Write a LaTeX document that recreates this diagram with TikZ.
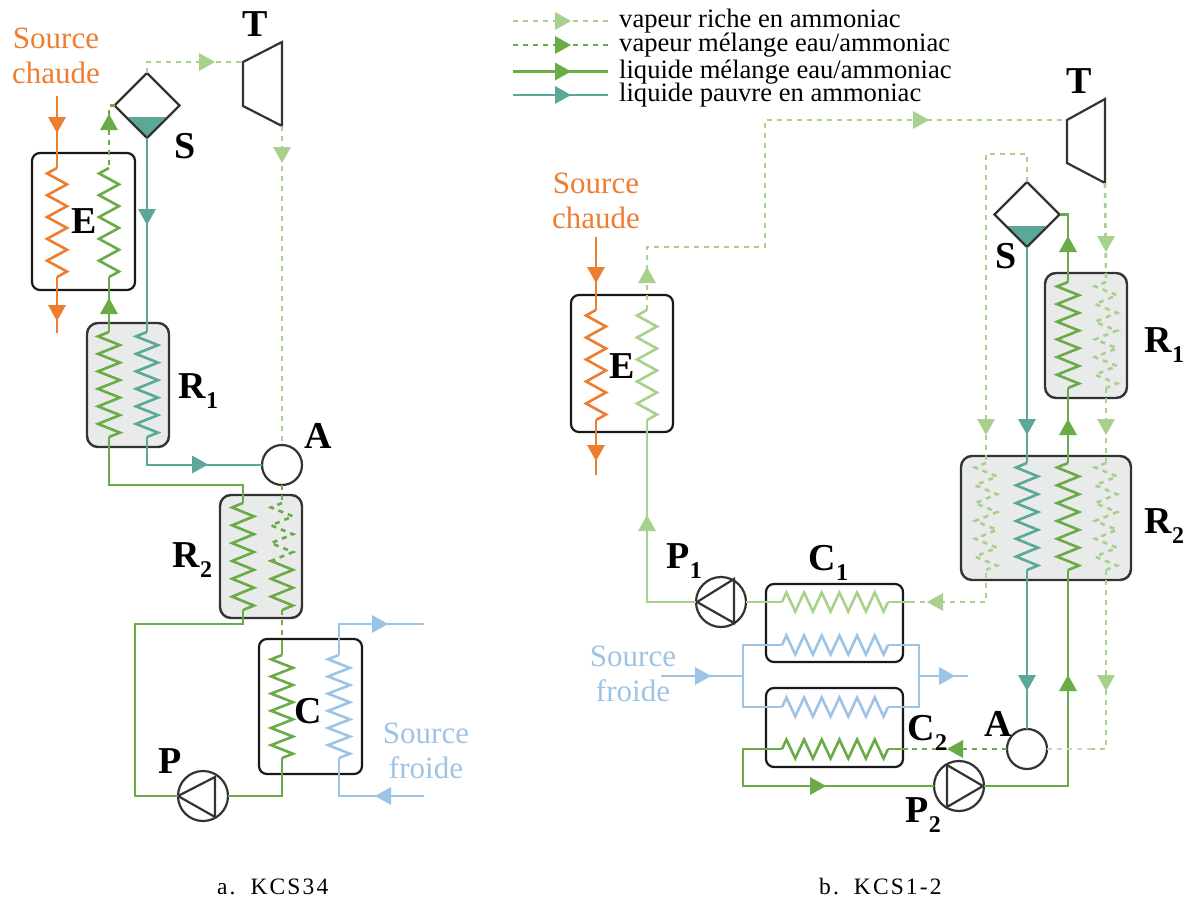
\documentclass[tikz,border=0pt]{standalone}
\usepackage{fontspec}
\setmainfont{Liberation Serif}
\newfontfamily\capfont[LetterSpace=9]{Liberation Serif}
\usetikzlibrary{calc,shapes.geometric}
\definecolor{corange}{HTML}{ED7D31}
\definecolor{clight}{HTML}{A9D18E}
\definecolor{cmed}{HTML}{6AAB47}
\definecolor{cteal}{HTML}{5BA898}
\definecolor{cblue}{HTML}{9DC3E6}
\definecolor{cedge}{HTML}{333333}
\definecolor{cgrey}{HTML}{E9EBEB}
\definecolor{cghost}{HTML}{CFCFCF}
\tikzset{
  orangeflow/.style={corange,line width=2.6pt},
  blueflow/.style={cblue,line width=2.6pt},
  tealflow/.style={cteal,line width=2.6pt},
  medflow/.style={cmed,line width=2.6pt},
  lightflow/.style={clight,line width=2.6pt},
  dashv/.style={dash pattern=on 5pt off 5pt},
  medvap/.style={medflow,dashv},
  lightvap/.style={lightflow,dashv},
  ghostvap/.style={cghost,line width=2.6pt,dashv},
  hxbox/.style={draw=black!90,line width=2.2pt,rounded corners=8pt,inner sep=0pt,outer sep=0pt},
  regen/.style={draw=cedge,fill=cgrey,line width=2.4pt,rounded corners=11pt,inner sep=0pt,outer sep=0pt},
  compo/.style={draw=cedge,line width=2.2pt,inner sep=0pt,outer sep=0pt},
  circ/.style={compo,circle,minimum size=#1pt},
  sep/.style={compo,diamond,aspect=1,minimum width=65pt,minimum height=65pt},
  boldlab/.style={inner sep=0pt,font=\fontsize{38}{38}\selectfont\bfseries,anchor=base},
  boldsub/.style={inner sep=0pt,font=\fontsize{38}{38}\selectfont\bfseries,anchor=base west},
  sourcelab/.style={inner sep=0pt,align=center,font=\fontsize{31}{35}\selectfont},
  legendlab/.style={inner sep=0pt,anchor=base west,font=\fontsize{26.6}{26.6}\selectfont},
  caption/.style={inner sep=0pt,anchor=base west,font=\capfont\fontsize{23.5}{23.5}\selectfont},
}
\newcommand\subbed[2]{#1\kern0.5pt\raisebox{-10.5pt}{\fontsize{24}{24}\selectfont #2}}
\newcommand\ftip[3]{\fill[#1,shift={(#2)},rotate=#3] (8,0)--(-8,9)--(-8,-9)--cycle;}
% style, start, end, periods, xamp, yamp
\newcommand\zig[6]{%
  \pgfmathtruncatemacro\zN{2*#4-1}%
  \draw[#1] (#2) \foreach \k [evaluate=\k as \zt using (\k+0.5)/(2*#4),
     evaluate=\k as \zs using 1-2*(\k-2*int(\k/2))] in {0,...,\zN}
     { -- ($(#2)!\zt!(#3)+({\zs*#5},{\zs*#6})$) } -- (#3);}
\newcommand\hxnode[6]{\node[#1,minimum width={(#5-#3)*1pt},minimum height={(#6-#4)*1pt}] (#2) at ({(#3+#5)/2},{(#4+#6)/2}) {};}
\begin{document}
\begin{tikzpicture}[x=1pt,y=-1pt,line join=miter]
\useasboundingbox (0,0) rectangle (1189,899);

% ===== left circuit (a) =====
\hxnode{hxbox}{Ea}{32}{153}{135}{290}
\hxnode{regen}{Raa}{87}{323}{169}{447}
\hxnode{regen}{Rab}{220}{495}{302}{618}
\hxnode{hxbox}{Ca}{259}{639}{362}{774}
\fill[cteal] (128,117)--(166,117)--(147,137)--cycle;
\node[sep] (Sa) at (147,105.5) {};
\node[circ=40,fill=white] (Aa) at (282,465) {};
\node[circ=50] (Pa) at (203,796) {};
\draw[compo] (178,796)--(215,777)--(215,817)--cycle;
\coordinate (Taa) at (243,62); \coordinate (Tab) at (282,42);
\coordinate (Tac) at (282,126); \coordinate (Tad) at (243,106);
\draw[compo] (Taa)--(Tab)--(Tac)--(Tad)--cycle;

% port coordinates (a)
\coordinate (oin) at (57,96);  \coordinate (oa) at (57,168); \coordinate (ob) at (57,277); \coordinate (oout) at (57,333);
\coordinate (ga) at (109,168); \coordinate (gb) at (109,277);
\coordinate (gc) at (109,332); \coordinate (gd) at (109,437);
\coordinate (ta) at (147,332); \coordinate (tb) at (147,437);
\coordinate (ra) at (243,503); \coordinate (rb) at (243,610);
\coordinate (rc) at (282,503); \coordinate (rd) at (282,610);
\coordinate (ca) at (282,655); \coordinate (cb) at (282,758);
\coordinate (ba) at (339,655); \coordinate (bb) at (339,758);
\coordinate (bo) at (424,624); \coordinate (bi) at (424,796);

% zigzags (a)
\zig{orangeflow}{oa}{ob}{5}{-10}{0}
\zig{medflow}{ga}{gb}{5}{-10}{0}
\zig{medflow}{gc}{gd}{6}{-11}{0}
\zig{tealflow}{ta}{tb}{6}{-11}{0}
\zig{medflow}{ra}{rb}{6}{-11}{0}
\begin{scope}\clip (260,495) rectangle (305,560);
\zig{medvap}{rc}{rd}{6}{-11}{0}
\end{scope}
\begin{scope}\clip (260,560) rectangle (305,620);
\zig{medflow}{rc}{rd}{6}{-11}{0}
\end{scope}
\zig{medflow}{ca}{cb}{6}{-11}{0}
\zig{blueflow}{ba}{bb}{6}{-11}{0}

% connectors (a)
\draw[orangeflow] (oin)--(oa);
\draw[orangeflow] (ob)--(oout);
\draw[medflow] (gb)--(gc);
\draw[medvap] (Sa.west) -- (109,105.5) -- (ga);
\draw[tealflow] (Sa.south)--(ta);
\draw[tealflow] (tb)|-(Aa.west);
\draw[medflow] (gd)--(109,485)-|(ra);
\draw[lightvap] (Sa.north)|-(Taa);
\draw[lightvap] (Tac)--(Aa.north);
\draw[medvap] (Aa.south)--(rc);
\draw[medvap] (rd)--(ca);
\draw[medflow] (282,640)--(ca);
\draw[medflow] (rb)--(243,624)-|(135,796)--(Pa.west);
\draw[medflow] (cb)|-(Pa.east);
\draw[blueflow] (ba)|-(bo);
\draw[blueflow] (bb)|-(bi);

\ftip{corange}{57,125}{270}
\ftip{corange}{57,313}{270}
\ftip{cmed}{109,122}{90}
\ftip{cmed}{109,306}{90}
\ftip{cteal}{147,217}{270}
\ftip{clight}{207,62}{0}
\ftip{clight}{282,155}{270}
\ftip{cteal}{200,464.5}{0}
\ftip{cblue}{380,624}{0}
\ftip{cblue}{383,796}{180}

% labels (a)
\node[sourcelab,text=corange] (SCa) at (56,56) {Source\\chaude};
\node[sourcelab,text=cblue] (SFa) at (426,751) {Source\\froide};
\node[boldlab] (lTa) at (255,37) {T};
\node[boldlab] (lSa) at (185,158) {S};
\node[boldlab] (lEa) at (84,233) {E};
\node[boldlab] (lAa) at (318,448) {A};
\node[boldlab] (lCa) at (308,723) {C};
\node[boldlab] (lPa) at (170,773) {P};
\node[boldsub] (lRaa) at (178,398) {\subbed{R}{1}};
\node[boldsub] (lRab) at (172,567) {\subbed{R}{2}};
\node[caption] (capa) at (217,894) {a.\hspace{15pt}KCS34};

% ===== legend =====
\foreach \ly/\st/\co/\tx/\by in {%
  21/lightvap/clight/{vapeur riche en ammoniac}/28,
  45/medvap/cmed/{vapeur mélange eau/ammoniac}/52,
  71.5/medflow/cmed/{liquide mélange eau/ammoniac}/78,
  95/tealflow/cteal/{liquide pauvre en ammoniac}/101}{%
  \coordinate (lega) at (513,\ly); \coordinate (legb) at (608,\ly);
  \draw[\st] (lega)--(legb);
  \ftip{\co}{563,\ly}{0}
  \node[legendlab] at (619,\by) {\tx};
}

% ===== right circuit (b) =====
\hxnode{hxbox}{Eb}{571}{295}{673}{432}
\hxnode{regen}{Rba}{1045}{273}{1127}{398}
\hxnode{regen}{Rbb}{961}{456}{1131}{580}
\hxnode{hxbox}{Cba}{766}{584}{903}{662}
\hxnode{hxbox}{Cbb}{766}{688}{903}{767}
\fill[cteal] (1007,226)--(1046,226)--(1027,247)--cycle;
\node[sep] (Sb) at (1027,214.5) {};
\node[circ=40] (Ab) at (1027,749) {};
\node[circ=50] (Pba) at (721,602) {};
\draw[compo] (697,602)--(734,579)--(734,623)--cycle;
\node[circ=50] (Pbb) at (959,786) {};
\draw[compo] (983,786)--(947,765)--(947,807)--cycle;
\coordinate (Tba) at (1067,120); \coordinate (Tbb) at (1105,99);
\coordinate (Tbc) at (1105,183); \coordinate (Tbd) at (1067,163);
\draw[compo] (Tba)--(Tbb)--(Tbc)--(Tbd)--cycle;

% ports (b)
\coordinate (Oin) at (596,237); \coordinate (Oa) at (596,310); \coordinate (Ob) at (596,420); \coordinate (Oout) at (596,475);
\coordinate (La) at (647,310); \coordinate (Lb) at (647,420);
\coordinate (Ga) at (1068,282); \coordinate (Gb) at (1068,388);
\coordinate (Ha) at (1106,282); \coordinate (Hb) at (1106,388);
\coordinate (Ia) at (986,463); \coordinate (Ib) at (986,570);
\coordinate (Ja) at (1027,463); \coordinate (Jb) at (1027,570);
\coordinate (Ka) at (1068,463); \coordinate (Kb) at (1068,570);
\coordinate (Ma) at (1106,463); \coordinate (Mb) at (1106,570);
\coordinate (Na) at (782,602); \coordinate (Nb) at (888,602);
\coordinate (Qa) at (782,645); \coordinate (Qb) at (888,645);
\coordinate (Ua) at (782,707); \coordinate (Ub) at (888,707);
\coordinate (Va) at (782,749); \coordinate (Vb) at (888,749);
\coordinate (fin) at (661,676); \coordinate (fl) at (743,676);
\coordinate (fr) at (919,676); \coordinate (fout) at (968,676);

% zigzags (b)
\zig{orangeflow}{Oa}{Ob}{5}{-10}{0}
\zig{lightflow}{La}{Lb}{5}{-10}{0}
\zig{medflow}{Ga}{Gb}{6}{-11}{0}
\zig{lightvap}{Ha}{Hb}{6}{-11}{0}
\zig{lightvap}{Ia}{Ib}{6}{-11}{0}
\zig{tealflow}{Ja}{Jb}{6}{-11}{0}
\zig{medflow}{Ka}{Kb}{6}{-11}{0}
\zig{lightvap}{Ma}{Mb}{6}{-11}{0}
\zig{lightflow}{Na}{Nb}{6}{0}{-9.5}
\zig{blueflow}{Qa}{Qb}{6}{0}{-9.5}
\zig{blueflow}{Ua}{Ub}{6}{0}{-9.5}
\zig{medflow}{Va}{Vb}{6}{0}{-9.5}

% connectors (b)
\draw[orangeflow] (Oin)--(Oa);
\draw[orangeflow] (Ob)--(Oout);
\draw[lightvap] (La)--(647,247)-|(765,120)--(Tba);
\draw[lightvap] (Sb.north)--(1027,154)-|(Ia);
\draw[medflow] (Sb.east)-|(Ga);
\draw[lightvap] (Tbc)--(Ha);
\draw[tealflow] (Sb.south)--(Ja);
\draw[medflow] (Gb)--(Ka);
\draw[lightvap] (Hb)--(Ma);
\draw[tealflow] (Jb)--(Ab.north);
\draw[medflow] (Kb)--(1068,786)--(Pbb.east);
\draw[lightvap] (Mb)--(1106,749)--(1092,749);
\draw[ghostvap] (1092,749)--(Ab.east);
\draw[medvap] (Ab.west)--(908,749);
\draw[medflow] (908,749)--(Vb);
\draw[medflow] (Va)--(743,749)|-(Pbb.west);
\draw[lightflow] (Lb)|-(Pba.west);
\draw[lightflow] (Pba.east)--(Na);
\draw[lightflow] (Nb)--(910,602);
\draw[lightvap] (910,602)-|(Ib);
\draw[blueflow] (fin)--(fl);
\draw[blueflow] (Qa)-|(fl)|-(Ua);
\draw[blueflow] (Qb)-|(fr)|-(Ub);
\draw[blueflow] (fr)--(fout);

\ftip{corange}{596,275}{270}
\ftip{corange}{596,453}{270}
\ftip{clight}{647,275}{90}
\ftip{clight}{647,523}{90}
\ftip{clight}{921,120}{0}
\ftip{clight}{935,602}{180}
\ftip{cmed}{1068,244}{90}
\ftip{clight}{1106,244}{270}
\ftip{clight}{986,427}{270}
\ftip{cteal}{1027,427}{270}
\ftip{cmed}{1068,427}{90}
\ftip{clight}{1106,427}{270}
\ftip{cteal}{1027,683}{270}
\ftip{cmed}{1068,683}{90}
\ftip{clight}{1106,683}{270}
\ftip{cblue}{703,676}{0}
\ftip{cblue}{947,676}{0}
\ftip{cmed}{955,749}{180}
\ftip{cmed}{818,786}{0}

% labels (b)
\node[sourcelab,text=corange] (SCb) at (596,201) {Source\\chaude};
\node[sourcelab,text=cblue] (SFb) at (633,674) {Source\\froide};
\node[boldlab] (lTb) at (1079,93) {T};
\node[boldlab] (lSb) at (1006,268) {S};
\node[boldlab] (lEb) at (622,378) {E};
\node[boldlab] (lAb) at (998,736) {A};
\node[boldsub] (lRba) at (1144,352) {\subbed{R}{1}};
\node[boldsub] (lRbb) at (1144,533) {\subbed{R}{2}};
\node[boldsub] (lCba) at (808,570) {\subbed{C}{1}};
\node[boldsub] (lCbb) at (907,740) {\subbed{C}{2}};
\node[boldsub] (lPba) at (666,568) {\subbed{P}{1}};
\node[boldsub] (lPbb) at (905,822) {\subbed{P}{2}};
\node[caption] (capb) at (819,894) {b.\hspace{15pt}KCS1-2};
\end{tikzpicture}
\end{document}
